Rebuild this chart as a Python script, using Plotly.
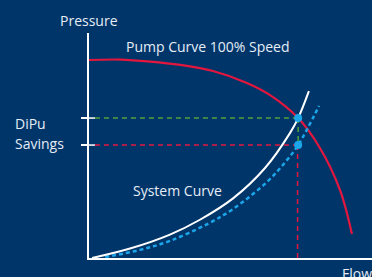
import plotly.graph_objects as go

# Data (flow %, pressure %)
pump_flow = [0, 11, 21.6, 32.2, 43.8, 55.8, 64, 73.9, 81.6, 88.7, 92.9]
pump_pressure = [88, 88.2, 87.3, 85.8, 83.1, 77.8, 72.4, 62.2, 48.9, 30.2, 10.7]

sys_flow = [1.1, 14.5, 28.6, 39.2, 50.9, 62.2, 71.0, 73.9, 77.7]
sys_pressure = [0, 4.2, 10.4, 17.0, 26.5, 40.0, 55.5, 62.2, 74.2]

dipu_flow = [5.7, 18, 28.6, 42, 50.9, 62.9, 69.6, 73.9, 81.3]
dipu_pressure = [0.4, 3.6, 7.6, 15.2, 21.8, 33.8, 43.0, 50.2, 67.6]

op_flow = 73.9
op_full = 62.2
op_dipu = 50.2

BG = "#00356a"
TXT = "#e6edf5"
RED = "#e3173e"
GREEN = "#4fa33a"
CYAN = "#1ba6ea"
FONT = "Open Sans"

fig = go.Figure()

# dashed guide lines
fig.add_trace(go.Scatter(x=[2.1, op_flow], y=[op_full, op_full], mode="lines",
                         line=dict(color=GREEN, width=1.5, dash="5px,4px"), hoverinfo="skip"))
fig.add_trace(go.Scatter(x=[op_flow, op_flow], y=[op_full, op_dipu], mode="lines",
                         line=dict(color=GREEN, width=1.5, dash="5px,4px"), hoverinfo="skip"))
fig.add_trace(go.Scatter(x=[2.1, op_flow], y=[op_dipu, op_dipu], mode="lines",
                         line=dict(color=RED, width=1.5, dash="5px,4px"), hoverinfo="skip"))
fig.add_trace(go.Scatter(x=[op_flow - 0.2, op_flow - 0.2], y=[op_dipu, 0], mode="lines",
                         line=dict(color=RED, width=1.5, dash="5px,4px"), hoverinfo="skip"))

# inner tick parts
for v in (op_full, op_dipu):
    fig.add_trace(go.Scatter(x=[0, 2.1], y=[v, v], mode="lines",
                             line=dict(color="white", width=1.5), hoverinfo="skip"))

# curves
fig.add_trace(go.Scatter(x=pump_flow, y=pump_pressure, mode="lines",
                         line=dict(color=RED, width=2.2, shape="spline", smoothing=1), hoverinfo="skip"))
fig.add_trace(go.Scatter(x=dipu_flow, y=dipu_pressure, mode="lines",
                         line=dict(color=CYAN, width=2.5, shape="spline", smoothing=1, dash="4px,3px"),
                         hoverinfo="skip"))
fig.add_trace(go.Scatter(x=sys_flow, y=sys_pressure, mode="lines",
                         line=dict(color="white", width=2, shape="spline", smoothing=1), hoverinfo="skip"))

# operating points
fig.add_trace(go.Scatter(x=[op_flow, op_flow], y=[op_full, op_dipu], mode="markers",
                         marker=dict(color=CYAN, size=8), hoverinfo="skip"))

txt_font = dict(family=FONT, size=14, color=TXT)
fig.add_annotation(text="Pressure", x=0, xref="x", y=1, yref="paper", xanchor="center",
                   yanchor="bottom", yshift=1, showarrow=False, font=txt_font)
fig.add_annotation(text="Flow", x=88.7, xref="x", y=0, yref="paper", xanchor="left",
                   yanchor="top", yshift=-4, showarrow=False, font=txt_font)
fig.add_annotation(text="Pump Curve 100% Speed", x=12.5, xref="x", y=94, yref="y",
                   xanchor="left", yanchor="middle", showarrow=False, font=txt_font)
fig.add_annotation(text="System Curve", x=15, xref="x", y=30, yref="y",
                   xanchor="left", yanchor="middle", showarrow=False, font=txt_font)
fig.add_annotation(text="DiPu", x=0, xref="x", xshift=13 - 89, y=op_full - 2.5, yref="y",
                   xanchor="left", yanchor="middle", showarrow=False, font=txt_font)
fig.add_annotation(text="Savings", x=0, xref="x", xshift=13 - 89, y=op_dipu + 0.5, yref="y",
                   xanchor="left", yanchor="middle", showarrow=False, font=txt_font)

fig.update_layout(
    width=372, height=277,
    margin=dict(l=89, r=0, t=33, b=19),
    paper_bgcolor=BG, plot_bgcolor=BG,
    showlegend=False,
    font=dict(family=FONT, size=14, color=TXT),
    xaxis=dict(range=[0, 100], showgrid=False, zeroline=False, showticklabels=False,
               showline=True, linecolor="white", linewidth=2, ticks="", fixedrange=True),
    yaxis=dict(range=[0, 100], showgrid=False, zeroline=False, showticklabels=False,
               showline=True, linecolor="white", linewidth=2,
               tickmode="array", tickvals=[op_full, op_dipu], ticks="outside",
               ticklen=6, tickwidth=1.5, tickcolor="white", fixedrange=True),
)

fig.write_html("out.html", config=dict(displayModeBar=False),
               post_script="document.body.style.margin='0';document.body.style.padding='0';"
                           "document.body.style.background='" + BG + "';")
